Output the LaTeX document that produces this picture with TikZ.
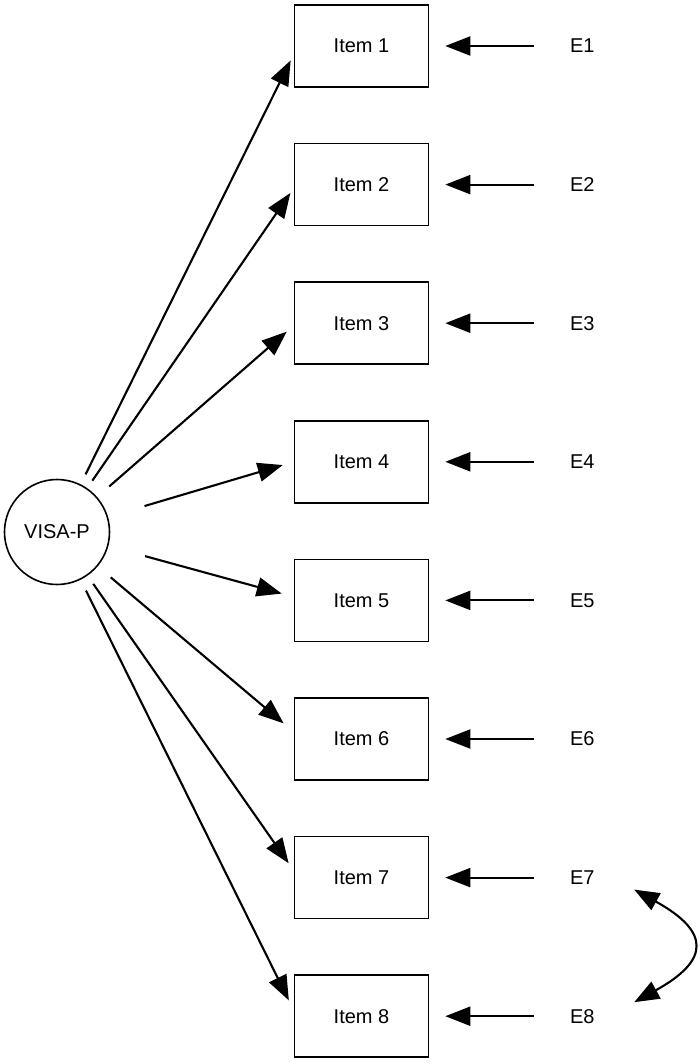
\documentclass[tikz,border=0pt]{standalone}
\usepackage{fontspec}
\setmainfont{Liberation Sans}
\usetikzlibrary{arrows.meta,positioning,calc}
\tikzset{
    %Define standard arrow tip
    >={Triangle[length=12.5pt,width=9.5pt]},
    obs/.style={
      rectangle,
      draw=black, line width=0.8pt,
      minimum width=67pt,
      minimum height=41pt,
      text centered},
    latent/.style={
      circle,
      draw=black, line width=0.8pt,
      minimum size=52.5pt,
      inner sep=0pt,
      text centered},
    resid/.style={
      text centered},
}

\begin{document}
\begin{tikzpicture}[x=0.5pt,y=-0.5pt,line width=1.05pt,
    node distance=27.5pt and 66.5pt,
    font=\fontsize{10}{12}\selectfont]
    \useasboundingbox (0,0) rectangle (700,1064);
    % observed items
    \node (item1) [obs] at (361.5,46) {Item 1};
    \node (item2) [obs] [below=of item1] {Item 2};
    \node (item3) [obs] [below=of item2] {Item 3};
    \node (item4) [obs] [below=of item3] {Item 4};
    \node (item5) [obs] [below=of item4] {Item 5};
    \node (item6) [obs] [below=of item5] {Item 6};
    \node (item7) [obs] [below=of item6] {Item 7};
    \node (item8) [obs] [below=of item7] {Item 8};
    % latent factor
    \node (visa) [latent] at (57,532)
          {VISA-P}
          edge [->,shorten <=5.5pt,shorten >=3.4pt] (item1.187)
          edge [->,shorten <=4.5pt,shorten >=2.9pt] (item2.183)
          edge [->,shorten <=8pt,shorten >=4.6pt] (item3.182)
          edge [->,shorten <=19pt,shorten >=5.7pt] (item4.180)
          edge [->,shorten <=19pt,shorten >=6.2pt] (item5.177)
          edge [->,shorten <=8.5pt,shorten >=6.6pt] (item6.174.5)
          edge [->,shorten <=5pt,shorten >=4.4pt] (item7.174)
          edge [->,shorten <=6pt,shorten >=5.5pt] (item8.175);
    % error terms
    \node (e1) [resid] [right=of item1] {E1}
          edge [->,shorten <=14.3pt,shorten >=8pt] (item1);
    \node (e2) [resid] [right=of item2] {E2}
          edge [->,shorten <=14.3pt,shorten >=8pt] (item2);
    \node (e3) [resid] [right=of item3] {E3}
          edge [->,shorten <=14.3pt,shorten >=8pt] (item3);
    \node (e4) [resid] [right=of item4] {E4}
          edge [->,shorten <=14.3pt,shorten >=8pt] (item4);
    \node (e5) [resid] [right=of item5] {E5}
          edge [->,shorten <=14.3pt,shorten >=8pt] (item5);
    \node (e6) [resid] [right=of item6] {E6}
          edge [->,shorten <=14.3pt,shorten >=8pt] (item6);
    \node (e7) [resid] [right=of item7] {E7}
          edge [->,shorten <=14.3pt,shorten >=8pt] (item7);
    \node (e8) [resid] [right=of item8] {E8}
          edge [->,shorten <=14.3pt,shorten >=8pt] (item8);
    % correlated errors
    \coordinate (cov7) at ($(e7.east)+(32,12)$);
    \coordinate (cov8) at ($(e8.east)+(32,-14)$);
    \draw [<->] (cov7) .. controls +(76,42) and +(76,-42) .. (cov8);
\end{tikzpicture}
\end{document}
